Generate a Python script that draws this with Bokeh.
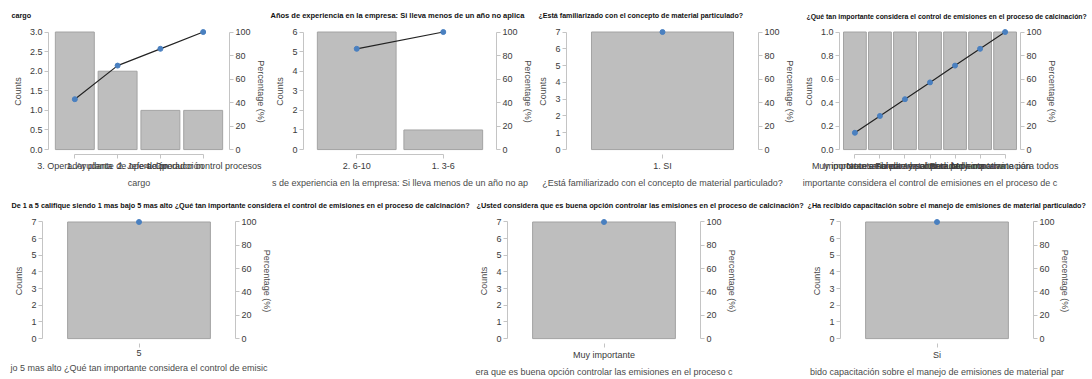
import numpy as np
from bokeh.plotting import figure
from bokeh.layouts import row, column
from bokeh.models import Range1d, LinearAxis, FixedTicker, NumeralTickFormatter
from bokeh.embed import file_html
from bokeh.resources import INLINE

FONT = "Liberation Sans"

# ---------------- data ----------------
cargo_title = "cargo"
cargo_cats = ["3. Operador planta", "1. Ayudante de operación", "2. Jefe de producción", "4. Operador control procesos"]
cargo_counts = [3, 2, 1, 1]
cargo_xlabel = "cargo"
cargo_yticks = [0, 0.5, 1.0, 1.5, 2.0, 2.5, 3.0]

exp_title = "Años de experiencia en la empresa: Si lleva menos de un año no aplica"
exp_cats = ["2. 6-10", "1. 3-6"]
exp_counts = [6, 1]
exp_xlabel = "s de experiencia en la empresa: Si lleva menos de un año no ap"
exp_yticks = [0, 1, 2, 3, 4, 5, 6]

fam_title = "¿Está familiarizado con el concepto de material particulado?"
fam_cats = ["1. SI"]
fam_counts = [7]
fam_xlabel = "¿Está familiarizado con el concepto de material particulado?"
fam_yticks = [0, 1, 2, 3, 4, 5, 6, 7]

imp_title = "¿Qué tan importante considera el control de emisiones en el proceso de calcinación?"
imp_cats = ["Muy importante salud",
            "Importante ambiente y salud",
            "Necesario para la comunidad",
            "Fundamental para la planta",
            "Importante por normativa",
            "Reduce la contaminación",
            "Muy importante para todos"]
imp_counts = [1, 1, 1, 1, 1, 1, 1]
imp_xlabel = "importante considera el control de emisiones en el proceso de c"
imp_yticks = [0, 0.2, 0.4, 0.6, 0.8, 1.0]

cal_title = "De 1 a 5 califique siendo 1 mas bajo 5 mas alto ¿Qué tan importante considera el control de emisiones en el proceso de calcinación?"
cal_cats = ["5"]
cal_counts = [7]
cal_xlabel = "jo 5 mas alto ¿Qué tan importante considera el control de emisic"
cal_yticks = [0, 1, 2, 3, 4, 5, 6, 7]

opc_title = "¿Usted considera que es buena opción controlar las emisiones en el proceso de calcinación?"
opc_cats = ["Muy importante"]
opc_counts = [7]
opc_xlabel = "era que es buena opción controlar las emisiones en el proceso c"
opc_yticks = [0, 1, 2, 3, 4, 5, 6, 7]

cap_title = "¿Ha recibido capacitación sobre el manejo de emisiones de material particulado?"
cap_cats = ["Si"]
cap_counts = [7]
cap_xlabel = "bido capacitación sobre el manejo de emisiones de material par"
cap_yticks = [0, 1, 2, 3, 4, 5, 6, 7]

pct_ticks = [0, 20, 40, 60, 80, 100]

# ---------------- styling ----------------
BAR_FILL = "#bebebe"
BAR_LINE = "#a3a3a3"
AXIS_COL = "#c4c4c4"
TICK_TXT = "#3a3a3a"
LAB_TXT = "#4a4a4a"
LINE_COL = "#222222"
PT_COL = "#4a80c0"


def style_axis(ax):
    ax.axis_line_color = AXIS_COL
    ax.major_tick_line_color = AXIS_COL
    ax.minor_tick_line_color = None
    ax.major_tick_in = 0
    ax.major_tick_out = 4
    ax.major_label_text_font = FONT
    ax.major_label_text_font_size = "9px"
    ax.major_label_text_color = TICK_TXT
    ax.axis_label_text_font = FONT
    ax.axis_label_text_font_size = "9px"
    ax.axis_label_text_color = LAB_TXT
    ax.axis_label_text_font_style = "normal"


def make_panel(title, cats, counts, xlabel, yticks, yfmt,
               left, fw, right, title_inset, title_size,
               top=28, fh=127, bottom=35):
    n = len(cats)
    ymax = max(counts)
    cum = np.cumsum(counts) / float(sum(counts)) * 100.0
    pb, pt = 0.042, 0.03
    idx = list(range(n))
    p = figure(width=left + fw + right, height=top + fh + bottom,
               min_border_left=left, min_border_right=right,
               min_border_top=top, min_border_bottom=bottom,
               x_range=Range1d(-0.615, n - 0.385),
               y_range=Range1d(-pb * ymax, ymax * (1 + pt)),
               output_backend="svg", toolbar_location=None,
               title=title)
    p.extra_y_ranges = {"pct": Range1d(-pb * 100, 100 * (1 + pt))}
    p.outline_line_color = None
    p.xgrid.visible = False
    p.ygrid.visible = False
    p.background_fill_color = "white"
    p.border_fill_color = "white"

    p.title.text_font = FONT
    p.title.text_font_size = title_size
    p.title.text_font_style = "bold"
    p.title.text_color = "#111111"
    p.title.align = "left"
    p.title.offset = title_inset - left
    p.title.standoff = 17

    p.vbar(x=idx, top=counts, bottom=0, width=0.91,
           fill_color=BAR_FILL, line_color=BAR_LINE, line_width=1)
    p.line(idx, list(cum), y_range_name="pct", line_color=LINE_COL, line_width=1.2)
    p.scatter(idx, list(cum), y_range_name="pct", size=5, fill_color=PT_COL,
              line_color=PT_COL)

    xa = p.xaxis[0]
    style_axis(xa)
    xa.ticker = FixedTicker(ticks=idx)
    xa.major_label_overrides = {i: c for i, c in enumerate(cats)}
    xa.bounds = (0, n - 1)
    xa.axis_label = xlabel
    xa.major_label_standoff = 2
    xa.axis_label_standoff = 4

    ya = p.yaxis[0]
    style_axis(ya)
    ya.ticker = FixedTicker(ticks=yticks)
    ya.formatter = NumeralTickFormatter(format=yfmt)
    ya.bounds = (0, ymax)
    ya.axis_label = "Counts"
    ya.major_label_standoff = 2
    ya.axis_label_standoff = 4

    ra = LinearAxis(y_range_name="pct", ticker=FixedTicker(ticks=pct_ticks),
                    bounds=(0, 100), axis_label="Percentage (%)")
    style_axis(ra)
    ra.major_label_standoff = 2
    ra.axis_label_standoff = 2
    p.add_layout(ra, "right")
    return p


p1 = make_panel(cargo_title, cargo_cats, cargo_counts, cargo_xlabel, cargo_yticks, "0.0",
                left=48, fw=187, right=33, title_inset=11, title_size="7.2px")
p2 = make_panel(exp_title, exp_cats, exp_counts, exp_xlabel, exp_yticks, "0",
                left=35, fw=195, right=37, title_inset=2, title_size="7.5px")
p3 = make_panel(fam_title, fam_cats, fam_counts, fam_xlabel, fam_yticks, "0",
                left=30, fw=193, right=42, title_inset=2, title_size="7.1px")
p4 = make_panel(imp_title, imp_cats, imp_counts, imp_xlabel, imp_yticks, "0.0",
                left=33, fw=187, right=72, title_inset=0, title_size="6.9px")

b1 = make_panel(cal_title, cal_cats, cal_counts, cal_xlabel, cal_yticks, "0",
                left=42, fw=193, right=240, title_inset=11, title_size="7.25px",
                bottom=34)
b2 = make_panel(opc_title, opc_cats, opc_counts, opc_xlabel, opc_yticks, "0",
                left=32, fw=193, right=106, title_inset=1, title_size="7.35px",
                bottom=34)
b3 = make_panel(cap_title, cap_cats, cap_counts, cap_xlabel, cap_yticks, "0",
                left=34, fw=193, right=59, title_inset=1, title_size="7.2px",
                bottom=34)

layout = column(row(p1, p2, p3, p4), row(b1, b2, b3))

open("out.html", "w").write(file_html(layout, INLINE))
